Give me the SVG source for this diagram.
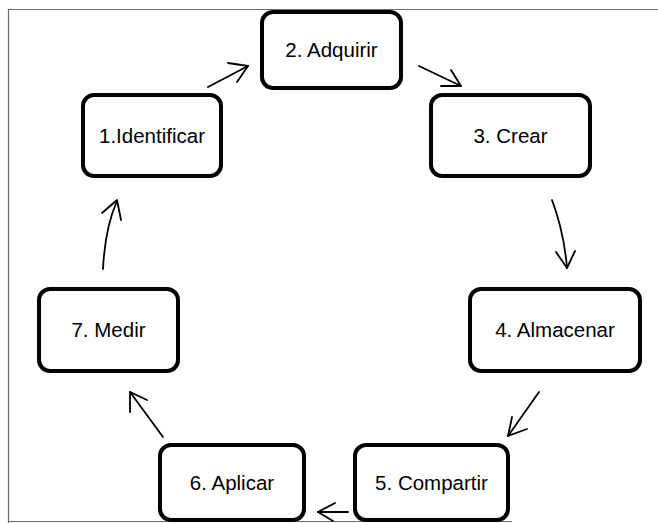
<svg xmlns="http://www.w3.org/2000/svg" width="658" height="523" viewBox="0 0 658 523">
<style>
.frame{fill:none;stroke:#6b6b6b;stroke-width:1.2}
.box{fill:#fff;stroke:#000;stroke-width:4}
.lbl{font-family:"Liberation Sans",Arial,sans-serif;font-size:20.5px;fill:#000;text-anchor:middle}
.ar{fill:none;stroke:#000;stroke-width:1.8;stroke-linecap:round;stroke-linejoin:round}
</style>
<rect width="658" height="523" fill="#fff"/>
<g id="frame">
<path class="frame" d="M8.5,523 V9.5 H658 M8.5,521.5 H512"/>
</g>
<g id="connectors">
<path class="ar" d="M208,87 L248,66"/><polyline class="ar" points="228,63 248,66 237,82"/>
<path class="ar" d="M419,66 L461,86"/><polyline class="ar" points="451,70 461,86 441,86"/>
<path class="ar" d="M552,200 Q564,232 567,268"/><polyline class="ar" points="556,252 567,268 575,251"/>
<path class="ar" d="M539,392 L508,436"/><polyline class="ar" points="512,417 508,436 527,429"/>
<path class="ar" d="M348,512 L318,512"/><polyline class="ar" points="335,503 318,512 333,521"/>
<path class="ar" d="M163,437 L130,392"/><polyline class="ar" points="130,412 130,392 147,400"/>
<path class="ar" d="M103,269 Q105,228 117,201"/><polyline class="ar" points="102,213 117,200 121,220"/>
</g>
<g id="n1"><rect class="box" x="83" y="95" width="138" height="81" rx="11"/><text class="lbl" x="152" y="142.5">1.Identificar</text></g>
<g id="n2"><rect class="box" x="262" y="12" width="139" height="76" rx="11"/><text class="lbl" x="331.5" y="57">2. Adquirir</text></g>
<g id="n3"><rect class="box" x="431" y="95" width="159" height="81" rx="11"/><text class="lbl" x="510.5" y="142.5">3. Crear</text></g>
<g id="n4"><rect class="box" x="470" y="289" width="170" height="82" rx="11"/><text class="lbl" x="555" y="337">4. Almacenar</text></g>
<g id="n5"><rect class="box" x="355" y="445" width="153" height="75" rx="11"/><text class="lbl" x="431.5" y="489.5">5. Compartir</text></g>
<g id="n6"><rect class="box" x="160" y="445" width="144" height="75" rx="11"/><text class="lbl" x="232" y="489.5">6. Aplicar</text></g>
<g id="n7"><rect class="box" x="39" y="289" width="139" height="82" rx="11"/><text class="lbl" x="108.5" y="337">7. Medir</text></g>
</svg>
